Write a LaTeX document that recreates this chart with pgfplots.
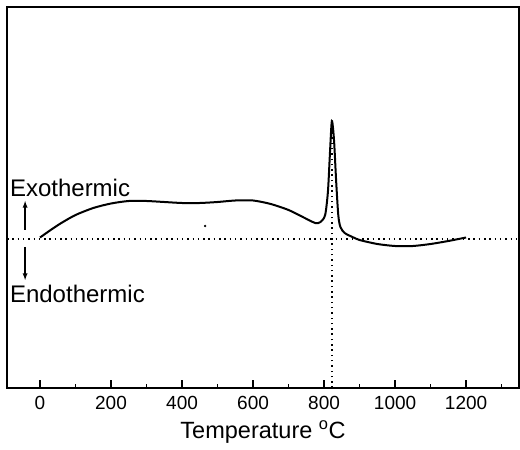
\documentclass[border=0pt]{standalone}
\usepackage{pgfplots}
\pgfplotsset{compat=1.18}
\usepackage{fontspec}
\setmainfont{Liberation Sans}
\begin{document}
\begin{tikzpicture}
\begin{axis}[
    scale only axis,
    width=512pt, height=381pt,
    xmin=-93, xmax=1349,
    ymin=-149, ymax=232,
    axis line style={line width=1.6pt},
    xtick={0,200,...,1200},
    minor xtick={100,300,500,700,900,1100,1300},
    ytick=\empty,
    xtick pos=lower,
    tick align=inside,
    major tick length=8pt,
    minor tick length=4pt,
    every tick/.style={black, line width=1.3pt},
    /pgf/number format/assume math mode=true,
    /pgf/number format/1000 sep={},
    xticklabel style={font=\fontsize{19}{19}\selectfont, yshift=-5pt},
    xlabel={Temperature \textsuperscript{o}C},
    xlabel style={font=\fontsize{23.5}{23.5}\selectfont, yshift=-4pt},
    clip=false,
]
% dotted reference lines
\addplot[black, line width=1.5pt, dash pattern=on 1.5pt off 3.8pt]
    coordinates {(-93,0) (1349,0)};
\addplot[black, line width=1.5pt, dash pattern=on 1.5pt off 3.8pt]
    coordinates {(822,-149) (822,118)};
% DTA curve
\addplot[black, line width=2pt, smooth, tension=0.45] coordinates {
    (0,1.5) (30,9) (60,16) (100,24) (150,31) (200,35.5) (250,38)
    (300,38) (350,37) (400,36) (450,36) (500,37) (550,38.5) (600,38.5)
    (650,35) (700,29) (740,22) (775,16) (790,17) (803,24) (811,48)
    (817,89) (822,118) (828,99) (834,58) (840,24) (846,12) (858,6)
    (880,2) (900,-1) (950,-5) (1000,-7) (1050,-7) (1100,-5)
    (1150,-2) (1200,1.5)
};
% speck
\addplot[only marks, mark=*, mark size=1pt, black] coordinates {(465,13)};
% labels
\node[anchor=base west, inner sep=0pt, font=\fontsize{24}{24}\selectfont]
    at (axis cs:-85,42) {Exothermic};
\node[anchor=base west, inner sep=0pt, font=\fontsize{24}{24}\selectfont]
    at (axis cs:-85,-64) {Endothermic};
\draw[-latex, line width=1.3pt] (axis cs:-42,9) -- (axis cs:-42,38);
\draw[-latex, line width=1.3pt] (axis cs:-42,-8) -- (axis cs:-42,-41);
\end{axis}
\pgfresetboundingbox
\path (current axis.south west) ++(-7pt,-62pt) coordinate (bl);
\path (current axis.north east) ++(1pt,7pt) coordinate (tr);
\path[use as bounding box] (bl) rectangle (tr);
\end{tikzpicture}
\end{document}
